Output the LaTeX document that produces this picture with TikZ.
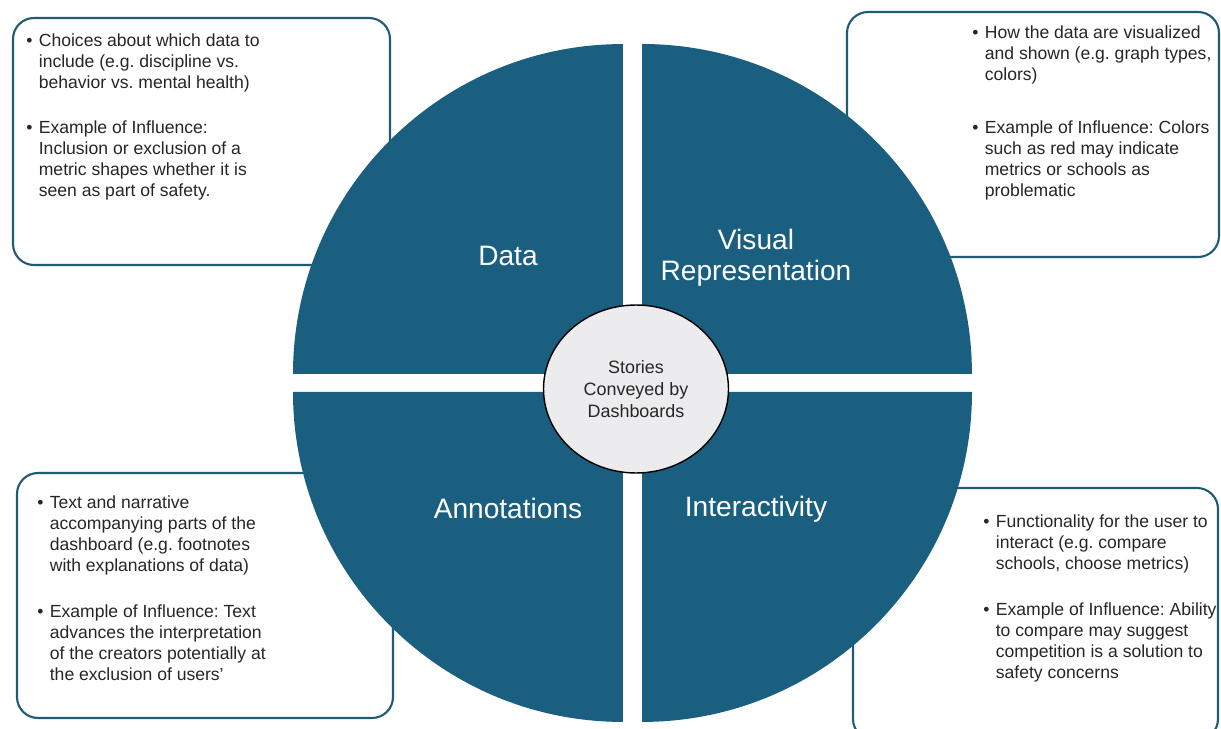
\documentclass[tikz,border=0pt]{standalone}
\usepackage{fontspec}
\setmainfont{Liberation Sans}
\usetikzlibrary{shapes.geometric}
\definecolor{quadblue}{RGB}{26,94,128}
\definecolor{boxline}{RGB}{33,90,115}
\definecolor{txt}{RGB}{38,38,38}
\definecolor{centerfill}{RGB}{236,236,238}
\frenchspacing
\newcommand\bpara[1]{\makebox[0.25cm][l]{\textbullet}\begin{tabular}[t]{@{}l@{}}#1\end{tabular}}
\tikzset{
  infobox/.style={draw=boxline, line width=1.2pt, rounded corners=0.42cm, fill=white, inner sep=0pt},
  quad/.style={fill=quadblue},
  para/.style={anchor=north west, inner sep=0pt, text=txt, font=\fontsize{10}{11.8}\selectfont},
  quadlabel/.style={text=white, align=center, inner sep=0pt, font=\fontsize{16}{17.6}\selectfont},
  hub/.style={ellipse, draw=black, line width=0.8pt, fill=centerfill, minimum width=3.7cm, minimum height=3.36cm, inner sep=0pt, align=center, text=txt, font=\fontsize{10.2}{12.5}\selectfont}
}
\begin{document}
\begin{tikzpicture}[x=0.02cm, y=-0.02cm]
\useasboundingbox (0,0) rectangle (1221,729);
\begin{scope}
\clip (0,0) rectangle (1221,729);
% boxes
\node[infobox, minimum width=377*0.02cm, minimum height=247*0.02cm] (tlbox) at (201.5,141.5) {};
\node[infobox, minimum width=372*0.02cm, minimum height=245*0.02cm] (trbox) at (1033,134.5) {};
\node[infobox, minimum width=376*0.02cm, minimum height=245*0.02cm] (blbox) at (205,595.5) {};
\node[infobox, minimum width=365*0.02cm, minimum height=252*0.02cm] (brbox) at (1035.5,614) {};
% quadrants
\fill[quad] (623,374) -- ++(-330,0) arc[start angle=180, end angle=90, radius=6.6cm] -- cycle;
\fill[quad] (642,374) -- ++(0,-330) arc[start angle=90, end angle=0, radius=6.6cm] -- cycle;
\fill[quad] (623,392) -- ++(-330,0) arc[start angle=180, end angle=270, radius=6.6cm] -- cycle;
\fill[quad] (642,392) -- ++(330,0) arc[start angle=0, end angle=-90, radius=6.6cm] -- cycle;
\end{scope}
% quadrant labels
\node[quadlabel] (data) at (508,256) {Data};
\node[quadlabel] (visual) at (756,258) {Visual\\Representation};
\node[quadlabel] (annot) at (508,508) {Annotations};
\node[quadlabel] (interact) at (756,509) {Interactivity};
% hub
\node[hub] (hub) at (636,389) {Stories\\Conveyed by\\Dashboards};
% box texts
\node[para] (tl1) at (26,32) {\bpara{Choices about which data to\\include (e.g. discipline vs.\\behavior vs. mental health)}};
\node[para] (tl2) at (26,119) {\bpara{Example of Influence:\\Inclusion or exclusion of a\\metric shapes whether it is\\seen as part of safety.}};
\node[para] (tr1) at (972,24) {\bpara{How the data are visualized\\and shown (e.g. graph types,\\colors)}};
\node[para] (tr2) at (972,119) {\bpara{Example of Influence: Colors\\such as red may indicate\\metrics or schools as\\problematic}};
\node[para] (bl1) at (37,494) {\bpara{Text and narrative\\accompanying parts of the\\dashboard (e.g. footnotes\\with explanations of data)}};
\node[para] (bl2) at (37,603) {\bpara{Example of Influence: Text\\advances the interpretation\\of the creators potentially at\\the exclusion of users'}};
\node[para] (br1) at (983,513) {\bpara{Functionality for the user to\\interact (e.g. compare\\schools, choose metrics)}};
\node[para] (br2) at (983,601) {\bpara{Example of Influence: Ability\\to compare may suggest\\competition is a solution to\\safety concerns}};
\end{tikzpicture}
\end{document}
